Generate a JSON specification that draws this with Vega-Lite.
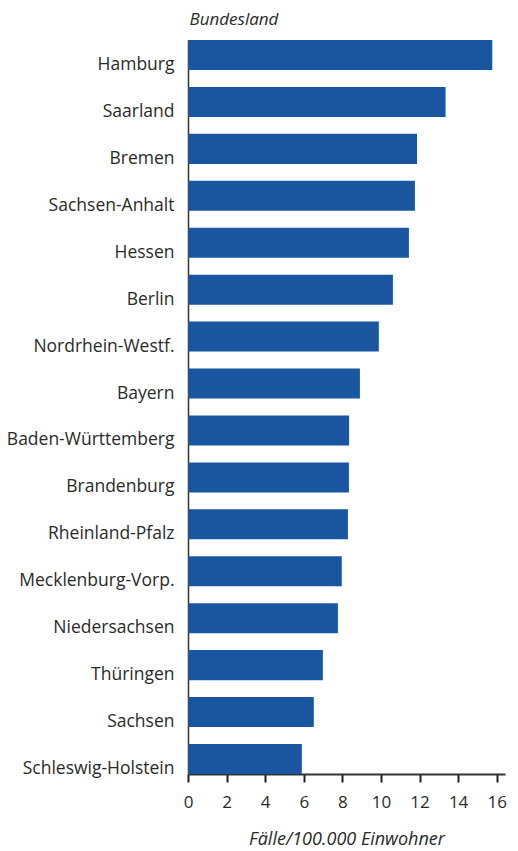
{
  "$schema": "https://vega.github.io/schema/vega-lite/v6.json",
  "width": 317,
  "height": 734,
  "autosize": {"type": "none"},
  "padding": {"left": 188, "top": 40, "right": 13, "bottom": 77},
  "background": "white",
  "config": {"view": {"stroke": null}, "font": "Open Sans"},
  "data": {
    "values": [
      {"Bundesland": "Hamburg", "Faelle": 15.77},
      {"Bundesland": "Saarland", "Faelle": 13.35},
      {"Bundesland": "Bremen", "Faelle": 11.87},
      {"Bundesland": "Sachsen-Anhalt", "Faelle": 11.76},
      {"Bundesland": "Hessen", "Faelle": 11.45},
      {"Bundesland": "Berlin", "Faelle": 10.62},
      {"Bundesland": "Nordrhein-Westf.", "Faelle": 9.89},
      {"Bundesland": "Bayern", "Faelle": 8.91},
      {"Bundesland": "Baden-Württemberg", "Faelle": 8.35},
      {"Bundesland": "Brandenburg", "Faelle": 8.34},
      {"Bundesland": "Rheinland-Pfalz", "Faelle": 8.29},
      {"Bundesland": "Mecklenburg-Vorp.", "Faelle": 7.97},
      {"Bundesland": "Niedersachsen", "Faelle": 7.77},
      {"Bundesland": "Thüringen", "Faelle": 6.99},
      {"Bundesland": "Sachsen", "Faelle": 6.52},
      {"Bundesland": "Schleswig-Holstein", "Faelle": 5.9}
    ]
  },
  "mark": {"type": "bar", "color": "#1a56a0"},
  "encoding": {
    "y": {
      "field": "Bundesland",
      "type": "nominal",
      "sort": null,
      "scale": {"paddingInner": 0.36, "paddingOuter": 0},
      "axis": {
        "title": "Bundesland",
        "titleAngle": 0,
        "titleAlign": "left",
        "titleBaseline": "alphabetic",
        "titleX": 1,
        "titleY": -16,
        "titleFontStyle": "italic",
        "titleFontWeight": "normal",
        "titleFontSize": 17,
        "titleColor": "#2a2a2a",
        "ticks": false,
        "tickSize": 0,
        "labelPadding": 14,
        "labelFontSize": 17.5,
        "labelColor": "#2a2a2a",
        "labelBaseline": "middle",
        "labelOffset": 10,
        "domainColor": "#333333",
        "domainWidth": 1.5
      }
    },
    "x": {
      "field": "Faelle",
      "type": "quantitative",
      "scale": {"domain": [0, 16.43], "nice": false},
      "axis": {
        "title": "Fälle/100.000 Einwohner",
        "titleFontStyle": "italic",
        "titleFontWeight": "normal",
        "titleFontSize": 18,
        "titleColor": "#2a2a2a",
        "titleBaseline": "alphabetic",
        "titleY": 70,
        "values": [0, 2, 4, 6, 8, 10, 12, 14, 16],
        "grid": false,
        "tickSize": 8,
        "tickWidth": 2,
        "tickColor": "#231f20",
        "domainColor": "#333333",
        "domainWidth": 2,
        "labelFontSize": 17,
        "labelColor": "#2a2a2a",
        "labelBaseline": "alphabetic",
        "labelPadding": 25,
        "labelFlush": false
      }
    }
  }
}
